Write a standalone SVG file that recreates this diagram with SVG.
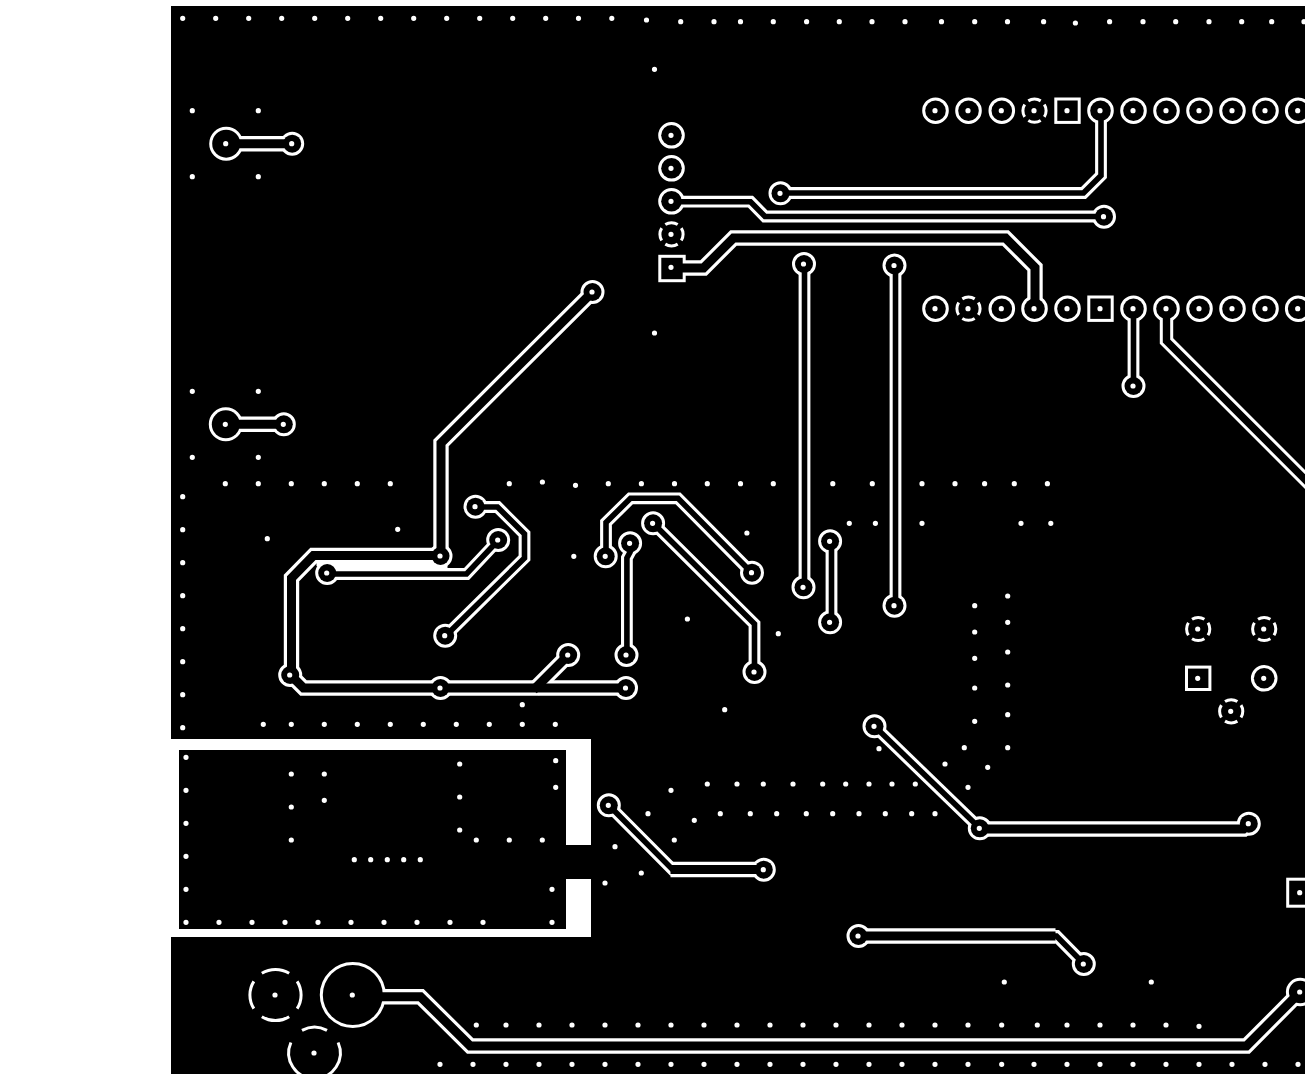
<svg xmlns="http://www.w3.org/2000/svg" xmlns:xlink="http://www.w3.org/1999/xlink" width="1305" height="1081" viewBox="0 0 1305 1081">
<style>
.o{--s:#fff;--f:#fff;--t:11.8;--m:13.4;--w:15.4;--p:6}
.i{--s:#000;--f:#000;--t:5.6;--m:7.4;--w:9;--p:0}
.thin,.mid,.wide{fill:none;stroke:var(--s);stroke-linejoin:miter;stroke-linecap:butt}
.thin{stroke-width:var(--t)}.mid{stroke-width:var(--m)}.wide{stroke-width:var(--w)}
.pd{fill:var(--f);stroke:var(--s);stroke-width:var(--p)}
.th{fill:none;stroke:#fff;stroke-width:3;stroke-dasharray:18 7;stroke-dashoffset:9}
.arc{fill:none;stroke:#fff;stroke-width:3}
.d{fill:none;stroke:#fff;stroke-width:5.2;stroke-linecap:round}
</style>
<defs>
<g id="copper">
<g class="thin">
<path d="M1100.5 111V175.5L1083 193H780"/>
<path d="M671 201.7H750L764.5 216.5H1103.5"/>
<path d="M804 264V587"/>
<path d="M895 265.5V605"/>
<path d="M831 541V622"/>
<path d="M1133 308.7V386"/>
<path d="M475 507H497L524 534V558L445 636"/>
<path d="M327 574H466L498 540"/>
<path d="M629.6 543.3V552L626.4 558V655"/>
<path d="M605.5 556V522.5L630 498.3H677.5L751.5 573"/>
<path d="M652.6 523.3L754 624V672"/>
<path d="M874 726.3L979.3 828.3"/>
<path d="M608.3 805.3L672 869.5H680"/>
<path d="M1083.5 964L1056 936H1048"/>
</g>
<g class="mid">
<path d="M1166 308.7V341L1310 485"/>
</g>
<g class="wide">
<path d="M226 143.7H292"/>
<path d="M226 424.3H284"/>
<path d="M671 268H703L733 238H1005L1034.5 267.5V308.7"/>
<path d="M592 292L440.5 443V556"/>
<path d="M440 555.5H313L291 578V668L290 675"/>
<path d="M290 675L303 688H625.5"/>
<path d="M568 655L533 690"/>
<path d="M979.3 829H1243L1248.3 824"/>
<path d="M670 869.5H763.5"/>
<path d="M858 936H1055"/>
<path d="M352.3 996.7H420L469.7 1046H1246L1299.7 992"/>
</g>
<g class="pd">
<circle cx="935" cy="110.7" r="10.3"/><circle cx="968" cy="110.7" r="10.3"/><circle cx="1001.3" cy="110.7" r="10.3"/>
<circle cx="1100" cy="110.7" r="10.3"/><circle cx="1133" cy="110.7" r="10.3"/><circle cx="1166" cy="110.7" r="10.3"/><circle cx="1199" cy="110.7" r="10.3"/><circle cx="1232" cy="110.7" r="10.3"/><circle cx="1265" cy="110.7" r="10.3"/><circle cx="1297.7" cy="110.7" r="10.3"/>
<circle cx="935" cy="308.7" r="10.3"/><circle cx="1001.3" cy="308.7" r="10.3"/><circle cx="1034" cy="308.7" r="10.3"/><circle cx="1067" cy="308.7" r="10.3"/>
<circle cx="1133" cy="308.7" r="10.3"/><circle cx="1166" cy="308.7" r="10.3"/><circle cx="1199" cy="308.7" r="10.3"/><circle cx="1232" cy="308.7" r="10.3"/><circle cx="1265" cy="308.7" r="10.3"/><circle cx="1297.7" cy="308.7" r="10.3"/>
<circle cx="671" cy="135.3" r="10.3"/><circle cx="671" cy="168.3" r="10.3"/><circle cx="671" cy="201.3" r="10.3"/>
<circle cx="1263.7" cy="678.3" r="10.3"/>
<circle cx="225.7" cy="143.7" r="14"/><circle cx="225.3" cy="424.3" r="14"/>
<circle cx="352.3" cy="995" r="30"/><circle cx="1299.7" cy="992" r="11.3"/>
<circle cx="291.7" cy="143.7" r="9"/><circle cx="283.3" cy="424.3" r="9"/>
<circle cx="780" cy="193.3" r="9"/><circle cx="1103.5" cy="216.7" r="9"/>
<circle cx="803.5" cy="264" r="9"/><circle cx="894" cy="265.5" r="9"/><circle cx="1133" cy="386" r="9"/><circle cx="592" cy="292" r="9"/>
<circle cx="440" cy="556" r="9"/><circle cx="475" cy="506.7" r="9"/><circle cx="497.7" cy="540" r="9"/><circle cx="326.7" cy="573" r="9"/>
<circle cx="444.7" cy="635.7" r="9"/><circle cx="289.7" cy="675" r="9"/><circle cx="440" cy="688" r="9"/><circle cx="567.7" cy="655" r="9"/>
<circle cx="625.5" cy="688" r="9"/><circle cx="626" cy="655" r="9"/><circle cx="629.6" cy="543.3" r="9"/><circle cx="605.2" cy="556.3" r="9"/>
<circle cx="652.6" cy="523.3" r="9"/><circle cx="751.5" cy="572.7" r="9"/><circle cx="803" cy="587.3" r="9"/><circle cx="829.6" cy="541.3" r="9"/>
<circle cx="829.6" cy="622.3" r="9"/><circle cx="894" cy="605.7" r="9"/><circle cx="754" cy="672" r="9"/>
<circle cx="874" cy="726.3" r="9"/><circle cx="979.3" cy="828.3" r="9"/><circle cx="1248.3" cy="823.7" r="9"/>
<circle cx="608.3" cy="805.3" r="9"/><circle cx="763.3" cy="869.7" r="9"/><circle cx="858" cy="936" r="9"/><circle cx="1083.3" cy="964" r="9"/>
<rect x="1056.8" y="100.5" width="20.4" height="20.4"/><rect x="1089.8" y="298.5" width="20.4" height="20.4"/>
<rect x="660.8" y="257.8" width="21.4" height="21.4"/><rect x="1187.5" y="668.6" width="20.4" height="19.4"/>
<rect x="1288.7" y="880.7" width="24" height="24"/>
</g>
</g>
</defs>
<rect id="page" width="1305" height="1081" fill="#fff"/>
<rect id="board" x="171" y="6" width="1134" height="1068" fill="#000"/>
<path id="cutout" fill="#fff" fill-rule="evenodd" d="M171 739H591V845H566V750H179V929H566V879H591V937H171Z"/>
<g id="connectors" transform="translate(.5 0)">
<g id="outline" class="o"><use xlink:href="#copper" href="#copper"/></g>
<polygon id="bridge" fill="#fff" points="316,559 447,559 447,572 330,572 316,566"/>
<g id="fill" class="i"><use xlink:href="#copper" href="#copper"/></g>
</g>
<g id="thermals" transform="translate(.5 0)">
<circle class="th" pathLength="100" cx="1034" cy="110.7" r="11.6"/>
<circle class="th" pathLength="100" cx="968" cy="308.7" r="11.6"/>
<circle class="th" pathLength="100" cx="671" cy="234.3" r="11.6"/>
<circle class="th" pathLength="100" cx="1197.7" cy="629" r="11.6"/>
<circle class="th" pathLength="100" cx="1263.7" cy="629" r="11.6"/>
<circle class="th" pathLength="100" cx="1230.7" cy="711.3" r="11.6"/>
<circle class="th" pathLength="100" cx="275" cy="995" r="25.6"/>
<path class="arc" d="M301.5 1030.4A25.8 25.8 0 0 1 326.5 1030.4M337.6 1042.5A25.8 25.8 0 1 1 290.4 1042.5"/>
</g>
<g id="pad-drills">
<path class="d" d="M935 110.7h0M968 110.7h0M1001.3 110.7h0M1034 110.7h0M1067 110.7h0M1100 110.7h0M1133 110.7h0M1166 110.7h0M1199 110.7h0M1232 110.7h0M1265 110.7h0M1297.7 110.7h0
M935 308.7h0M968 308.7h0M1001.3 308.7h0M1034 308.7h0M1067 308.7h0M1100 308.7h0M1133 308.7h0M1166 308.7h0M1199 308.7h0M1232 308.7h0M1265 308.7h0M1297.7 308.7h0
M671 135.3h0M671 168.3h0M671 201.3h0M671 234.3h0M671 267.3h0
M1197.7 629h0M1263.7 629h0M1197.7 678.3h0M1263.7 678.3h0M1230.7 711.3h0M1299.7 892.7h0M1299.7 992h0
M225.7 143.7h0M225.3 424.3h0M352.3 995h0M275 995h0M314 1053h0
M291.7 143.7h0M283.3 424.3h0M780 193.3h0M1103.5 216.7h0M803.5 264h0M894 265.5h0M1133 386h0M592 292h0
M440 556h0M475 506.7h0M497.7 540h0M326.7 573h0M444.7 635.7h0M289.7 675h0M440 688h0M567.7 655h0
M625.5 688h0M626 655h0M629.6 543.3h0M605.2 556.3h0M652.6 523.3h0M751.5 572.7h0M803 587.3h0M829.6 541.3h0
M829.6 622.3h0M894 605.7h0M754 672h0M874 726.3h0M979.3 828.3h0M1248.3 823.7h0M608.3 805.3h0M763.3 869.7h0M858 936h0M1083.3 964h0"/>
</g>
<g id="stitching-vias">
<path class="d" d="M182.7 18.3h0M215.7 18.3h0M248.7 18.3h0M281.7 18.3h0M314.7 18.3h0M347.7 18.3h0M380.7 18.3h0M413.7 18.3h0M446.7 18.3h0M479.7 18.3h0M512.7 18.3h0M545.7 18.3h0M578.5 18.3h0M611.8 18.3h0M646.5 20h0M680.7 21.7h0M714 21.7h0M740.5 21.7h0M773.3 21.7h0M806.6 21.7h0M839.3 21.7h0M872 21.7h0M905 21.7h0M941.5 21.7h0M974.7 21.7h0M1007.5 21.7h0M1043.6 21.7h0M1075.4 23h0M1109.6 21.7h0M1143 21.7h0M1175.7 21.7h0M1209 21.7h0M1241.7 21.7h0M1271.7 21.7h0M1304 21.7h0
M654.5 69.3h0M654.5 333h0
M192.3 110.7h0M258.3 110.7h0M192.3 176.7h0M258.3 176.7h0M192.3 391.3h0M258.3 391.3h0M192.3 457.3h0M258.3 457.3h0
M225.3 483.7h0M258.3 483.7h0M291.3 483.7h0M324.3 483.7h0M357.3 483.7h0M390.3 483.7h0M509.3 483.7h0M542.4 482h0M575.5 485.3h0M608.3 483.7h0M641.4 483.7h0M674.5 483.7h0M707.3 483.7h0M740.5 483.7h0M773.3 483.7h0M832.8 483.7h0M872.3 483.7h0M922 483.7h0M955 483.7h0M984.6 483.7h0M1014.3 483.7h0M1047.4 483.7h0
M849.3 523.3h0M875.4 523.3h0M922 523.3h0M1021 523.3h0M1050.8 523.3h0
M746.9 533h0M573.8 556.3h0M687.4 619h0M778.3 633.7h0M267.3 538.7h0M397.7 529.3h0
M182.7 496.7h0M182.7 529.7h0M182.7 562.7h0M182.7 595.7h0M182.7 628.7h0M182.7 661.7h0M182.7 694.7h0M182.7 727.7h0
M263.3 724.3h0M291.3 724.3h0M324.3 724.3h0M357.3 724.3h0M390.3 724.3h0M423.3 724.3h0M456.3 724.3h0M489.3 724.3h0M522.3 724.3h0M555.3 724.3h0M522.3 704.7h0M724.7 709.7h0
M974.7 605.7h0M974.7 632h0M974.7 658.3h0M974.7 688h0M974.7 721.3h0M1007.7 596h0M1007.7 622.3h0M1007.7 652h0M1007.7 685h0M1007.7 714.7h0M1007.7 747.7h0M964.3 747.7h0M945 764h0M987.7 767.3h0M968 787.3h0M879 748.7h0
M671 790.3h0M707.3 784h0M737 784h0M763.3 784h0M793 784h0M822.7 784h0M845.7 784h0M869 784h0M892 784h0M915.3 784h0
M648 813.7h0M720.3 813.7h0M750.3 813.7h0M776.7 813.7h0M806.3 813.7h0M832.7 813.7h0M859 813.7h0M885.3 813.7h0M911.7 813.7h0M935 813.7h0
M694.3 820.3h0M674.3 840h0M615 846.7h0M641.3 873h0M605 883h0
M186 757.3h0M186 790.3h0M186 823.3h0M186 856.3h0M186 889.3h0M186 922.3h0M219 922.3h0M252 922.3h0M285 922.3h0M318 922.3h0M351 922.3h0M384 922.3h0M417 922.3h0M450 922.3h0M483 922.3h0M552 922.3h0M552 889.3h0M555.7 760.7h0M555.7 787.3h0
M459.7 764h0M459.7 797h0M459.7 830h0M476.3 840h0M509.3 840h0M542.3 840h0M291.3 774h0M324.3 774h0M324.3 800.3h0M291.3 807h0M291.3 840h0
M354.3 859.7h0M370.7 859.7h0M387.3 859.7h0M403.7 859.7h0M420.3 859.7h0
M1004.3 982h0M1151.3 982h0
M476.3 1025h0M506 1025h0M539 1025h0M572 1025h0M605 1025h0M638 1025h0M671 1025h0M704 1025h0M737 1025h0M770 1025h0M803 1025h0M836 1025h0M869 1025h0M902 1025h0M935 1025h0M968 1025h0M1001.7 1025h0M1037.3 1025h0M1067 1025h0M1100 1025h0M1133 1025h0M1166 1025h0M1199 1026.3h0
M440 1064.3h0M473 1064.3h0M506 1064.3h0M539 1064.3h0M572 1064.3h0M605 1064.3h0M638 1064.3h0M671 1064.3h0M704 1064.3h0M737 1064.3h0M770 1064.3h0M803 1064.3h0M836 1064.3h0M869 1064.3h0M902 1064.3h0M935 1064.3h0M968 1064.3h0M1001.7 1064.3h0M1034 1064.3h0M1067 1064.3h0M1100 1064.3h0M1133 1064.3h0M1166 1064.3h0M1199 1064.3h0M1232 1064.3h0M1265 1064.3h0M1298 1064.3h0"/>
</g>
</svg>
